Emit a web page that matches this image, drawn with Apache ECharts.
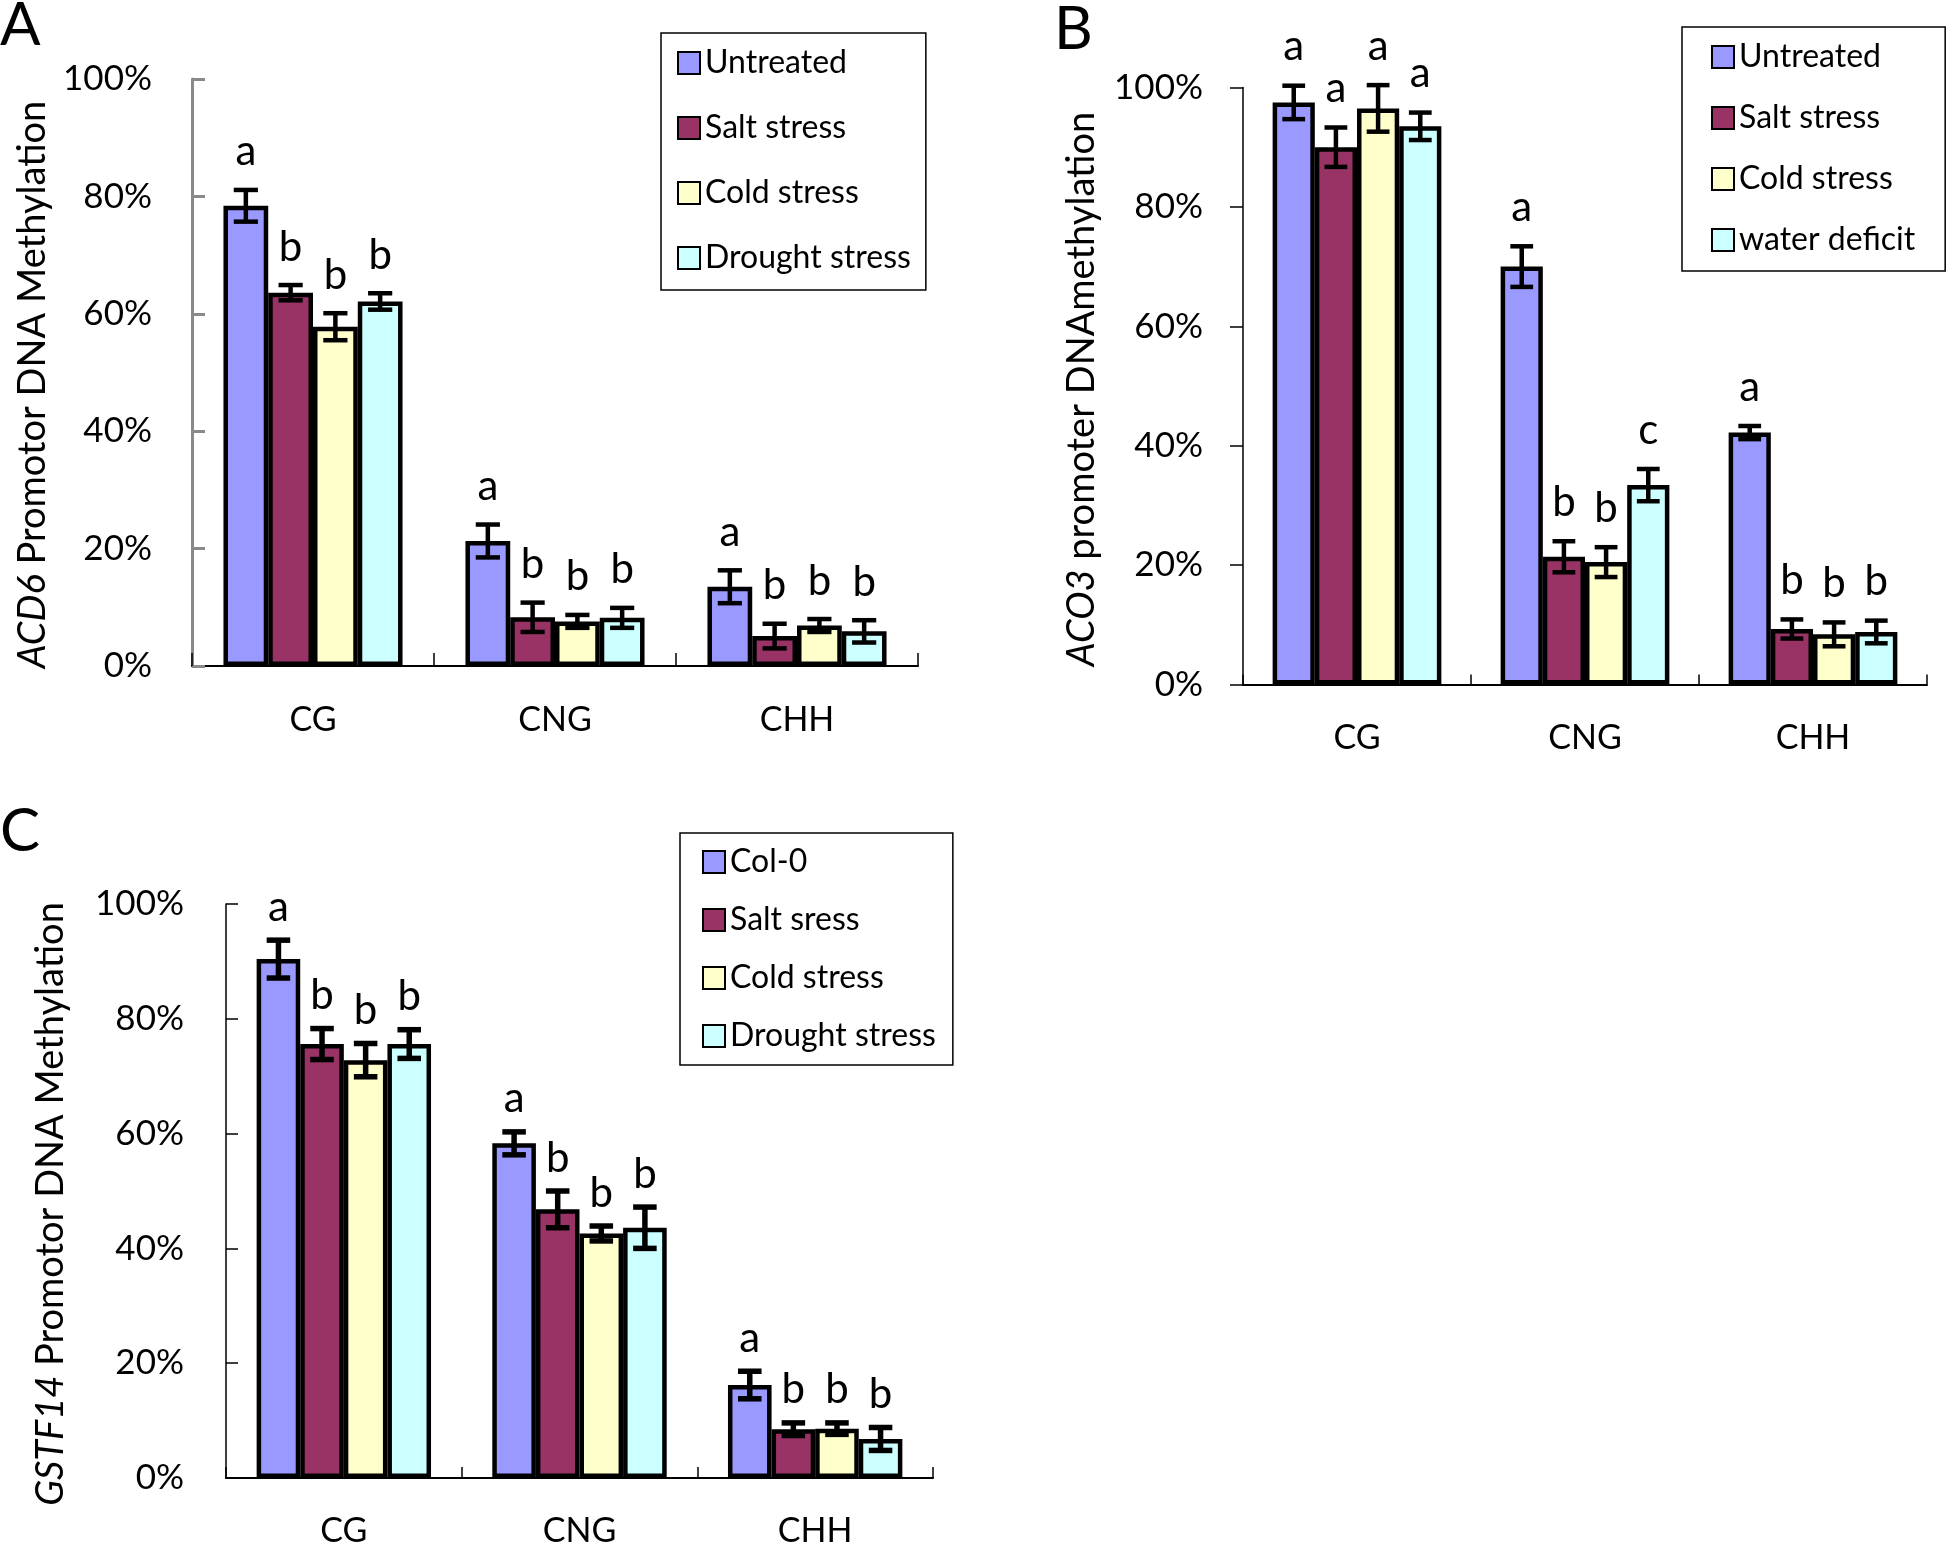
<!DOCTYPE html>
<html>
<head>
<meta charset="utf-8">
<script src="https://cdn.jsdelivr.net/npm/echarts@6/dist/echarts.min.js"></script>
<style>
html,body{margin:0;padding:0;background:#fff;}
#chart{width:1952px;height:1548px;}
</style>
</head>
<body>
<div id="chart"></div>
<script>
// ---------- DATA ----------
const categories = ['CG', 'CNG', 'CHH'];
const yTicks = [0, 20, 40, 60, 80, 100];

// Panel A: ACD6
const aNames = ['Untreated', 'Salt stress', 'Cold stress', 'Drought stress'];
const aUntreated = [78.4, 21.3, 13.5];
const aSalt      = [63.6, 8.3, 5.1];
const aCold      = [57.8, 7.6, 6.9];
const aDrought   = [62.1, 8.2, 5.9];
const aUntreatedErr = [2.7, 2.8, 2.8];
const aSaltErr      = [1.3, 2.5, 2.1];
const aColdErr      = [2.3, 1.1, 1.1];
const aDroughtErr   = [1.4, 1.7, 1.9];
const aUntreatedLet = ['a', 'a', 'a'];
const aSaltLet      = ['b', 'b', 'b'];
const aColdLet      = ['b', 'b', 'b'];
const aDroughtLet   = ['b', 'b', 'b'];

// Panel B: ACO3
const bNames = ['Untreated', 'Salt stress', 'Cold stress', 'water deficit'];
const bUntreated = [97.5, 70.0, 42.2];
const bSalt      = [90.0, 21.4, 9.3];
const bCold      = [96.5, 20.5, 8.4];
const bWater     = [93.5, 33.4, 8.8];
const bUntreatedErr = [2.8, 3.4, 1.1];
const bSaltErr      = [3.3, 2.6, 1.6];
const bColdErr      = [3.9, 2.5, 2.0];
const bWaterErr     = [2.3, 2.7, 1.9];
const bUntreatedLet = ['a', 'a', 'a'];
const bSaltLet      = ['a', 'b', 'b'];
const bColdLet      = ['a', 'b', 'b'];
const bWaterLet     = ['a', 'c', 'b'];

// Panel C: GSTF14
const cNames = ['Col-0', 'Salt sress', 'Cold stress', 'Drought stress'];
const cCol0    = [90.4, 58.3, 16.2];
const cSalt    = [75.6, 46.8, 8.5];
const cCold    = [72.8, 42.6, 8.6];
const cDrought = [75.6, 43.6, 6.8];
const cCol0Err    = [3.3, 2.0, 2.4];
const cSaltErr    = [2.7, 3.2, 1.1];
const cColdErr    = [2.9, 1.3, 1.0];
const cDroughtErr = [2.5, 3.6, 2.0];
const cCol0Let    = ['a', 'a', 'a'];
const cSaltLet    = ['b', 'b', 'b'];
const cColdLet    = ['b', 'b', 'b'];
const cDroughtLet = ['b', 'b', 'b'];

// ---------- STYLE ----------
const FONT = 'Lato';
const colors = ['#9999FF', '#993366', '#FFFFCC', '#CCFFFF'];
const CAT_GAP = 0.26;

const panels = [
  { names: aNames, means: [aUntreated, aSalt, aCold, aDrought],
    errs: [aUntreatedErr, aSaltErr, aColdErr, aDroughtErr],
    lets: [aUntreatedLet, aSaltLet, aColdLet, aDroughtLet],
    letGap: 17, errW: 4.5 },
  { names: bNames, means: [bUntreated, bSalt, bCold, bWater],
    errs: [bUntreatedErr, bSaltErr, bColdErr, bWaterErr],
    lets: [bUntreatedLet, bSaltLet, bColdLet, bWaterLet],
    letGap: 18, errW: 4.5 },
  { names: cNames, means: [cCol0, cSalt, cCold, cDrought],
    errs: [cCol0Err, cSaltErr, cColdErr, cDroughtErr],
    lets: [cCol0Let, cSaltLet, cColdLet, cDroughtLet],
    letGap: 12, errW: 5.5 }
];

const series = [];
panels.forEach((p, pi) => {
  p.names.forEach((nm, si) => {
    series.push({
      type: 'bar', name: nm, xAxisIndex: pi, yAxisIndex: pi,
      data: p.means[si], barGap: '0%', barCategoryGap: (CAT_GAP * 100) + '%',
      itemStyle: { color: colors[si], borderColor: '#000', borderWidth: 4.5 },
      z: 2
    });
  });
  p.names.forEach((nm, si) => {
    const errs = p.errs[si], lets = p.lets[si];
    series.push({
      type: 'custom', name: 'err' + pi + '_' + si, xAxisIndex: pi, yAxisIndex: pi,
      data: p.means[si].map((m, i) => [i, m]),
      encode: { x: 0, y: 1 }, z: 5, silent: true,
      renderItem: function (params, api) {
        const i = api.value(0), m = api.value(1), e = errs[params.dataIndex];
        const band = api.size([1, 0])[0];
        const bw = band * (1 - CAT_GAP) / 4;
        const cx = api.coord([i, m])[0] + (si - 1.5) * bw;
        const yT = api.coord([i, m + e])[1];
        const yB = api.coord([i, m - e])[1];
        const cw = bw * 0.27;
        const ls = { stroke: '#000', lineWidth: p.errW };
        return { type: 'group', children: [
          { type: 'line', shape: { x1: cx, y1: yT, x2: cx, y2: yB }, style: ls },
          { type: 'line', shape: { x1: cx - cw, y1: yT, x2: cx + cw, y2: yT }, style: ls },
          { type: 'line', shape: { x1: cx - cw, y1: yB, x2: cx + cw, y2: yB }, style: ls },
          { type: 'text', x: cx, y: yT - p.letGap,
            style: { text: lets[params.dataIndex], fill: '#000', font: '42px ' + FONT,
                     align: 'center', verticalAlign: 'bottom' } }
        ]};
      }
    });
  });
});

const grids = [
  { left: 192, top: 79, width: 726, height: 587 },
  { left: 1243, top: 87.5, width: 684, height: 597 },
  { left: 226, top: 904, width: 707, height: 577 }
];

const xAxisCfg = [
  { tickLen: 13, margin: 37 },
  { tickLen: 10, margin: 37 },
  { tickLen: 11, margin: 36 }
];
const xAxes = xAxisCfg.map((c, i) => ({
  type: 'category', gridIndex: i, data: categories,
  axisLine: { lineStyle: { color: '#000', width: 2 } },
  axisTick: { show: true, inside: true, length: c.tickLen, lineStyle: { color: '#000', width: 1.5 } },
  axisLabel: { margin: c.margin, fontSize: 34, fontFamily: FONT, color: '#000' }
}));

const yNames = [
  { name: '{i|ACD6} Promotor DNA Methylation', gap: 140, shift: 12, axisColor: '#8a8a8a', axisW: 3, inside: true, tickLen: 13, margin: 40 },
  { name: '{i|ACO3} promoter DNAmethylation', gap: 142, shift: 3, axisColor: '#000', axisW: 1.5, inside: false, tickLen: 13, margin: 40 },
  { name: '{i|GSTF14} Promotor DNA Methylation', gap: 156, shift: 13, axisColor: '#000', axisW: 1.5, inside: true, tickLen: 12, margin: 42 }
];
const yAxes = yNames.map((c, i) => ({
  type: 'value', gridIndex: i, min: yTicks[0], max: yTicks[yTicks.length - 1],
  interval: yTicks[1] - yTicks[0],
  name: c.name, nameLocation: 'middle', nameGap: c.gap,
  nameTextStyle: { fontSize: 38, fontFamily: FONT, color: '#000', padding: [0, 2 * c.shift, 0, 0],
    rich: { i: { fontSize: 38, fontFamily: FONT, fontStyle: 'italic', color: '#000' } } },
  splitLine: { show: false },
  axisLine: { show: true, lineStyle: { color: c.axisColor, width: c.axisW } },
  axisTick: { show: true, inside: c.inside, length: c.tickLen, lineStyle: { color: c.axisColor, width: c.axisW } },
  axisLabel: { margin: c.margin, fontSize: 35, fontFamily: FONT, color: '#000', formatter: '{value}%' }
}));

const legendCfg = [
  { left: 661, top: 33, gap: 33, pad: [14, 15, 16, 16] },
  { left: 1682, top: 27, gap: 29, pad: [14, 30, 15, 29] },
  { left: 680, top: 833, gap: 26, pad: [13, 17, 13, 22] }
];
const legends = legendCfg.map((c, i) => ({
  data: panels[i].names, orient: 'vertical', left: c.left, top: c.top,
  itemGap: c.gap, itemWidth: 22, itemHeight: 22, padding: c.pad,
  borderColor: '#000', borderWidth: 1.5, icon: 'rect', selectedMode: false,
  textStyle: { fontSize: 32, fontFamily: FONT, color: '#000' }
}));

const titles = [
  { text: 'A', left: 0, top: -4 },
  { text: 'B', left: 1054, top: 0 },
  { text: 'C', left: 0, top: 802 }
].map(t => ({ text: t.text, left: t.left, top: t.top, padding: 0,
  textStyle: { fontSize: 60, fontFamily: FONT, fontWeight: 'normal', color: '#000' } }));

const chart = echarts.init(document.getElementById('chart'), null, { renderer: 'canvas' });
chart.setOption({
  animation: false,
  backgroundColor: '#fff',
  title: titles,
  legend: legends,
  grid: grids,
  xAxis: xAxes,
  yAxis: yAxes,
  series: series
});
</script>
</body>
</html>
